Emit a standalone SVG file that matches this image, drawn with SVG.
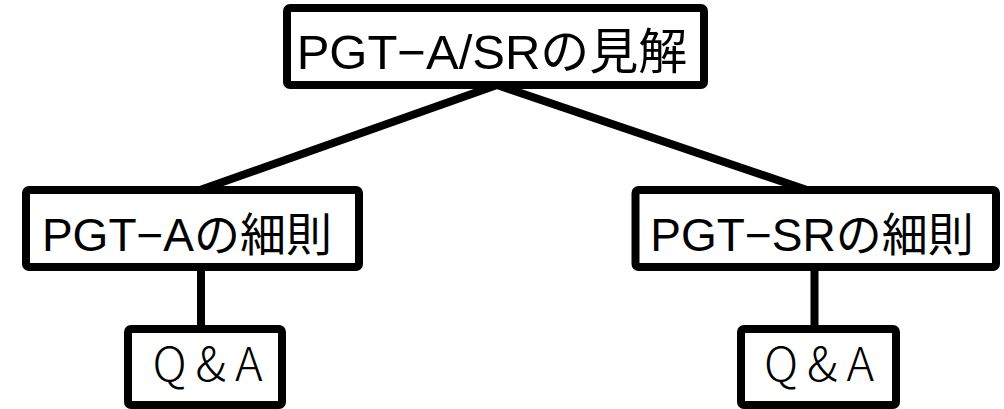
<svg xmlns="http://www.w3.org/2000/svg" width="1004" height="409" viewBox="0 0 1004 409">
<style>
.box{fill:#fff;stroke:#000;stroke-width:8;stroke-linejoin:round}
.lbl{font-family:"Liberation Sans","Noto Sans CJK JP",sans-serif;font-size:46px;fill:#000}
.top{font-size:49px}
.qa{font-family:"Noto Sans CJK JP",sans-serif;font-size:47px;font-weight:300;letter-spacing:9px;fill:#000}
.con{stroke:#000;stroke-width:8;fill:none}
</style>
<rect width="1004" height="409" fill="#fff"/>
<g id="connectors">
<line class="con" x1="497" y1="85" x2="200" y2="190"/>
<line class="con" x1="497" y1="85" x2="807" y2="190"/>
<line class="con" x1="201" y1="267" x2="201" y2="329"/>
<line class="con" x1="814.5" y1="267" x2="814.5" y2="329"/>
</g>
<g id="root">
<rect class="box" x="287" y="8" width="417" height="77" rx="3"/>
<text class="lbl top" x="492" y="69" text-anchor="middle">PGT−A/SRの見解</text>
</g>
<g id="pgta">
<rect class="box" x="26" y="190" width="333" height="77" rx="3"/>
<text class="lbl" x="187" y="251" text-anchor="middle">PGT−Aの細則</text>
</g>
<g id="pgtsr">
<rect class="box" x="635.5" y="190" width="360.5" height="77" rx="3"/>
<text class="lbl" x="812" y="251" text-anchor="middle">PGT−SRの細則</text>
</g>
<g id="qa1">
<rect class="box" x="128" y="329" width="154" height="76" rx="3"/>
<text class="qa" x="212" y="381" text-anchor="middle">Q&amp;A</text>
</g>
<g id="qa2">
<rect class="box" x="741" y="329" width="155" height="76" rx="3"/>
<text class="qa" x="823.5" y="381" text-anchor="middle">Q&amp;A</text>
</g>
</svg>
